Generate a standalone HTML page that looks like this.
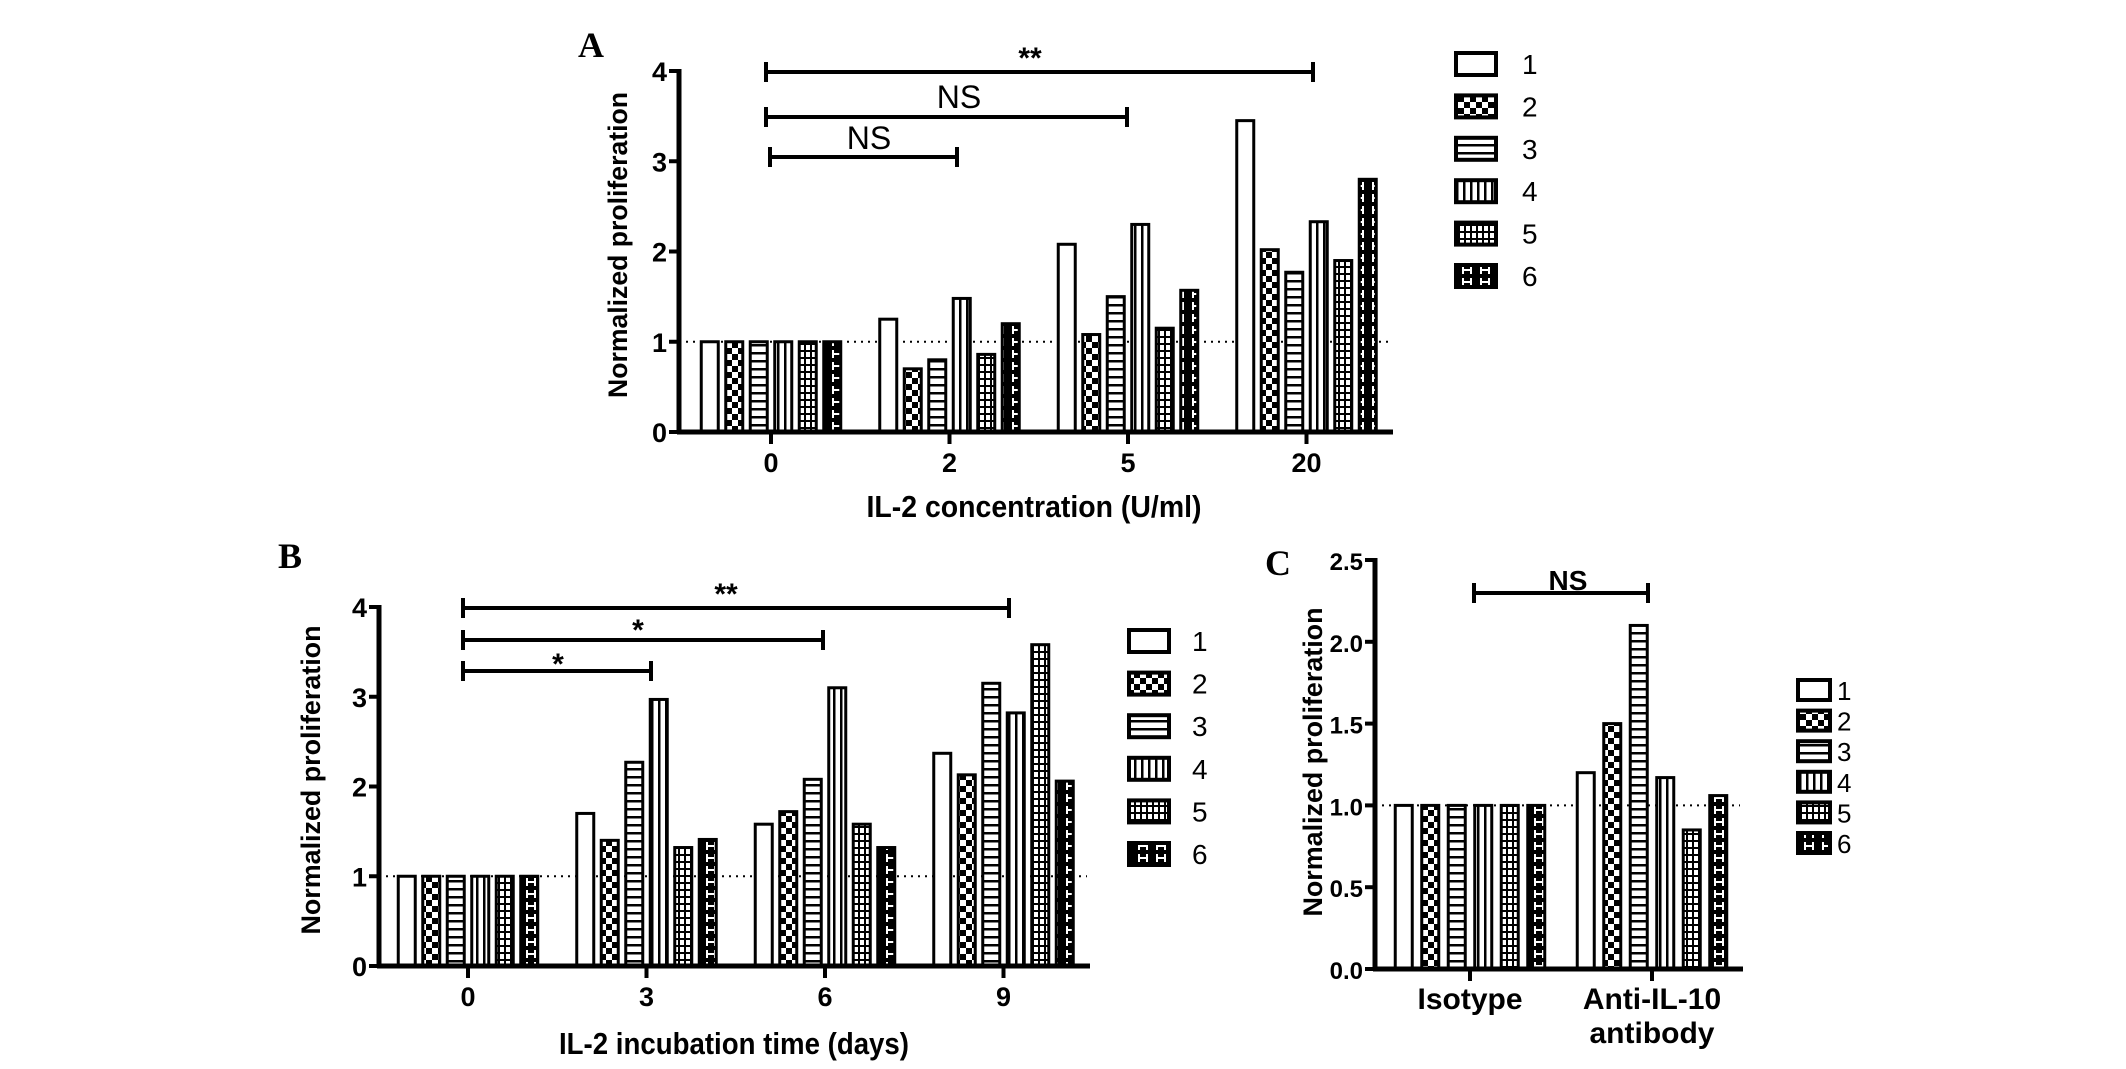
<!DOCTYPE html>
<html><head><meta charset="utf-8">
<style>
html,body{margin:0;padding:0;background:#fff;}
svg{display:block;}
text{font-family:"Liberation Sans",Arial,sans-serif;fill:#000;}
</style></head>
<body>
<svg id="fig" width="2126" height="1069" viewBox="0 0 2126 1069" xmlns="http://www.w3.org/2000/svg">
<defs>
  <pattern id="p2" width="12" height="12" patternUnits="userSpaceOnUse">
    <rect width="12" height="12" fill="#000"/><rect x="0" y="0" width="6" height="6" fill="#fff"/><rect x="6" y="6" width="6" height="6" fill="#fff"/>
  </pattern>
  <pattern id="p3" width="8" height="8" patternUnits="userSpaceOnUse">
    <rect width="8" height="8" fill="#fff"/><rect y="0" width="8" height="2.5" fill="#000"/>
  </pattern>
  <pattern id="p4" width="7" height="8" patternUnits="userSpaceOnUse">
    <rect width="7" height="8" fill="#fff"/><rect x="0" width="2.5" height="8" fill="#000"/>
  </pattern>
  <pattern id="p5" width="6" height="7" patternUnits="userSpaceOnUse">
    <rect width="6" height="7" fill="#fff"/><rect width="2" height="7" fill="#000"/><rect width="6" height="2" fill="#000"/>
  </pattern>
  <pattern id="p6" width="18" height="12" patternUnits="userSpaceOnUse">
    <rect width="18" height="12" fill="#000"/><rect x="4" y="2" width="2" height="8" fill="#fff"/><rect x="12" y="2" width="2" height="8" fill="#fff"/><rect x="4" y="5" width="10" height="2" fill="#fff"/>
  </pattern>
</defs>
<g id="root"></g>
</svg>
<script>
// ---- Data ----
const seriesNames = ["1","2","3","4","5","6"];
const catsA = ["0","2","5","20"];
const valsA = [[1,1,1,1,1,1],[1.25,0.7,0.8,1.48,0.86,1.2],[2.08,1.08,1.5,2.3,1.15,1.57],[3.45,2.02,1.77,2.33,1.9,2.8]];
const ticksA = [0,1,2,3,4];
const catsB = ["0","3","6","9"];
const valsB = [[1,1,1,1,1,1],[1.7,1.4,2.27,2.97,1.32,1.41],[1.58,1.72,2.08,3.1,1.58,1.32],[2.37,2.13,3.15,2.82,3.58,2.06]];
const ticksB = [0,1,2,3,4];
const catsC = ["Isotype","Anti-IL-10"];
const valsC = [[1,1,1,1,1,1],[1.2,1.5,2.1,1.17,0.85,1.06]];
const ticksC = [0,0.5,1.0,1.5,2.0,2.5];
const tickLabelsC = ["0.0","0.5","1.0","1.5","2.0","2.5"];

const NS="http://www.w3.org/2000/svg";
const root=document.getElementById('root');
const fills=["#fff","url(#p2)","url(#p3)","url(#p4)","url(#p5)","url(#p6)"];
function el(tag,attrs,parent,txt){const e=document.createElementNS(NS,tag);for(const k in attrs)e.setAttribute(k,attrs[k]);if(txt!==undefined)e.textContent=txt;(parent||root).appendChild(e);return e;}

function chart(cfg){
  const g=el('g',{});
  
  
  const y=v=>cfg.y0-(v-cfg.ymin)/(cfg.ymax-cfg.ymin)*(cfg.y0-cfg.y1);
  const x=i=>cfg.cx0+i*cfg.cstep;
  // dotted reference line
  const dl=el('line',{x1:cfg.ax,x2:cfg.dotEnd,y1:y(1),y2:y(1),stroke:'#000','stroke-width':2,'stroke-dasharray':'2,5'},g);
  
  
  // bars
  cfg.vals.forEach((grp,ci)=>{
    grp.forEach((v,si)=>{
      const bx=x(ci)-cfg.pitch*2.5+si*cfg.pitch-cfg.bw/2;
      const r=el('rect',{x:bx,y:y(v),width:cfg.bw,height:y(0)-y(v),fill:fills[si],stroke:'#000','stroke-width':3},g);
      
      
    });
  });
  // axes
  const ya=el('line',{x1:cfg.ax,x2:cfg.ax,y1:cfg.y1-2,y2:y(0)+2,stroke:'#000','stroke-width':5},g);
  
  
  const xa=el('line',{x1:cfg.ax-2,x2:cfg.xEnd,y1:y(0),y2:y(0),stroke:'#000','stroke-width':5},g);
  
  
  cfg.ticks.forEach((t,i)=>{
    el('line',{x1:cfg.ax-10,x2:cfg.ax,y1:y(t),y2:y(t),stroke:'#000','stroke-width':4},g);
    const tl=el('text',{x:cfg.ax-12,y:y(t)+10,'text-anchor':'end','font-size':cfg.tfs,'font-weight':'bold'},g,cfg.tickLabels?cfg.tickLabels[i]:String(t));
    
    
  });
  cfg.cats.forEach((c,ci)=>{
    el('line',{x1:x(ci),x2:x(ci),y1:y(0),y2:y(0)+12,stroke:'#000','stroke-width':4},g);
    if(cfg.catLabels){cfg.catLabels[ci].forEach((ln,li)=>{
      const t=el('text',{x:x(ci),y:cfg.catY+li*34,'text-anchor':'middle','font-size':30,'font-weight':'bold'},g,ln);
      
      
    });}else{
      const t=el('text',{x:x(ci),y:cfg.catY,'text-anchor':'middle','font-size':27,'font-weight':'bold'},g,c);
      
      
    }
  });
  // titles
  const yt=el('text',{x:0,y:0,'text-anchor':'middle','font-size':cfg.ytfs,'font-weight':'bold',textLength:cfg.ytLen,lengthAdjust:'spacingAndGlyphs',transform:`translate(${cfg.ytx},${cfg.yty}) rotate(-90)`},g,'Normalized proliferation');
  
  
  if(cfg.xt){
    const xt=el('text',{x:cfg.xt[0],y:cfg.xt[1],'text-anchor':'middle','font-size':31,'font-weight':'bold',textLength:cfg.xt[3],lengthAdjust:'spacingAndGlyphs'},g,cfg.xt[2]);
    
    
  }
  const pl=el('text',{x:cfg.letter[0],y:cfg.letter[1],'font-size':36,'font-weight':'bold',style:'font-family:"Liberation Serif",serif'},g,cfg.letter[2]);
  
  
  // significance brackets
  cfg.sig.forEach(s=>{
    const sg=el('g',{},g);
    
    
    el('line',{x1:s.x1,x2:s.x2,y1:s.y,y2:s.y,stroke:'#000','stroke-width':4},sg);
    el('line',{x1:s.x1,x2:s.x1,y1:s.y-10,y2:s.y+10,stroke:'#000','stroke-width':4},sg);
    el('line',{x1:s.x2,x2:s.x2,y1:s.y-10,y2:s.y+10,stroke:'#000','stroke-width':4},sg);
    el('text',{x:s.tx,y:s.ty,'text-anchor':'middle','font-size':s.fs,'font-weight':s.fw||'normal'},sg,s.t);
  });
  // legend
  seriesNames.forEach((n,i)=>{
    const lg=el('g',{},g);
    
    
    const cy=cfg.leg.y0+i*cfg.leg.dy;
    el('rect',{x:cfg.leg.x,y:cy-cfg.leg.h/2,width:cfg.leg.w,height:cfg.leg.h,fill:fills[i],stroke:'#000','stroke-width':4},lg);
    el('text',{x:cfg.leg.tx,y:cy+10,'font-size':cfg.leg.fs},lg,n);
  });
}

chart({name:'chart-a',cats:catsA,vals:valsA,ticks:ticksA,ymin:0,ymax:4,y0:432,y1:71,ax:679,xEnd:1393,dotEnd:1390,
  cx0:771,cstep:178.5,pitch:24.5,bw:17,tfs:27,catY:472,
  ytx:627,yty:245,ytfs:27,ytLen:306,xt:[1034,517,'IL-2 concentration (U/ml)',335],letter:[578,57,'A'],
  sig:[{x1:766,x2:1313,y:72,tx:1030,ty:68,t:'**',fs:30,fw:'bold'},
       {x1:766,x2:1127,y:117,tx:959,ty:108,t:'NS',fs:32},
       {x1:770,x2:957,y:157,tx:869,ty:149,t:'NS',fs:32}],
  leg:{x:1456,w:40,h:22,y0:64,dy:42.4,tx:1522,fs:28}});

chart({name:'chart-b',cats:catsB,vals:valsB,ticks:ticksB,ymin:0,ymax:4,y0:966,y1:607,ax:379,xEnd:1090,dotEnd:1087,
  cx0:468,cstep:178.5,pitch:24.5,bw:17,tfs:27,catY:1006,
  ytx:320,yty:780,ytfs:27,ytLen:309,xt:[734,1054,'IL-2 incubation time (days)',350],letter:[278,568,'B'],
  sig:[{x1:463,x2:1009,y:608,tx:726,ty:604,t:'**',fs:30,fw:'bold'},
       {x1:463,x2:823,y:640,tx:638,ty:640,t:'*',fs:30,fw:'bold'},
       {x1:463,x2:651,y:671,tx:558,ty:674,t:'*',fs:30,fw:'bold'}],
  leg:{x:1129,w:40,h:22,y0:641,dy:42.6,tx:1192,fs:28}});

chart({name:'chart-c',cats:catsC,vals:valsC,ticks:ticksC,tickLabels:tickLabelsC,ymin:0,ymax:2.5,y0:969,y1:560,ax:1375,xEnd:1743,dotEnd:1740,
  cx0:1470,cstep:182,pitch:26.5,bw:17,tfs:24,catY:1009,catLabels:[['Isotype'],['Anti-IL-10','antibody']],
  ytx:1322,yty:762,ytfs:27,ytLen:309,xt:null,letter:[1265,575,'C'],
  sig:[{x1:1474,x2:1648,y:593,tx:1568,ty:590,t:'NS',fs:28,fw:'bold'}],
  leg:{x:1798,w:32,h:20,y0:690,dy:30.6,tx:1837,fs:26}});
</script>
</body></html>
